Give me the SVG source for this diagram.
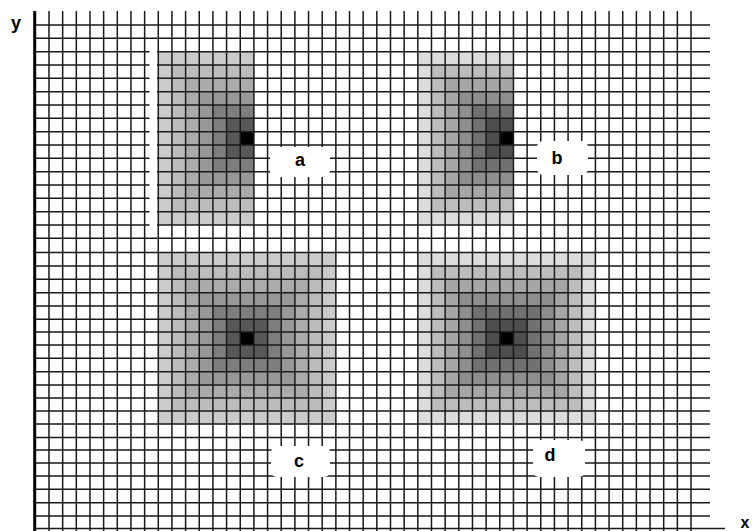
<svg xmlns="http://www.w3.org/2000/svg" width="753" height="531" viewBox="0 0 753 531">
<style>
.grid{fill:none;stroke:#1a1a1a;stroke-width:1.5}
.axis{fill:none;stroke:#000;stroke-width:3}
.lbl{font-family:"Liberation Sans",Arial,sans-serif;font-weight:bold;font-size:18px;fill:#000;text-anchor:middle}
.box{fill:#fff;stroke:none}
.c6{fill:#cbcbcb}.c5{fill:#bcbcbc}.c4{fill:#ababab}.c3{fill:#989898}.c2{fill:#7e7e7e}.c1{fill:#585858}.c0{fill:#000}
.d6{fill:#dcdcdc}.d5{fill:#bdbdbd}.d4{fill:#a6a6a6}.d3{fill:#8e8e8e}.d2{fill:#717171}.d1{fill:#4e4e4e}.d0{fill:#000}
</style>
<rect width="753" height="531" fill="#fff"/>
<g id="field-a">
<rect class="c6" x="158.28" y="51.7" width="95.62" height="173.3"/>
<rect class="c5" x="171.94" y="65" width="81.96" height="146.7"/>
<rect class="c4" x="185.6" y="78.3" width="68.3" height="120"/>
<rect class="c3" x="199.26" y="91.7" width="54.64" height="93.3"/>
<rect class="c2" x="212.92" y="105" width="40.98" height="66.7"/>
<rect class="c1" x="226.58" y="118.3" width="27.32" height="40"/>
<rect class="c0" x="240.24" y="131.7" width="13.66" height="13.3"/>
</g>
<g id="field-b">
<rect class="d6" x="417.82" y="51.7" width="95.62" height="173.3"/>
<rect class="d5" x="431.48" y="65" width="81.96" height="146.7"/>
<rect class="d4" x="445.14" y="78.3" width="68.3" height="120"/>
<rect class="d3" x="458.8" y="91.7" width="54.64" height="93.3"/>
<rect class="d2" x="472.46" y="105" width="40.98" height="66.7"/>
<rect class="d1" x="486.12" y="118.3" width="27.32" height="40"/>
<rect class="d0" x="499.78" y="131.7" width="13.66" height="13.3"/>
</g>
<g id="field-c">
<rect class="c6" x="158.28" y="252.5" width="177.58" height="171.5"/>
<rect class="c5" x="171.94" y="266" width="150.26" height="145"/>
<rect class="c4" x="185.6" y="279.3" width="122.94" height="118.7"/>
<rect class="c3" x="199.26" y="292.7" width="95.62" height="92.3"/>
<rect class="c2" x="212.92" y="306" width="68.3" height="65.7"/>
<rect class="c1" x="226.58" y="319.3" width="40.98" height="39"/>
<rect class="c0" x="240.24" y="332" width="13.66" height="13"/>
</g>
<g id="field-d">
<rect class="d6" x="417.82" y="252.5" width="177.58" height="171.5"/>
<rect class="d5" x="431.48" y="266" width="150.26" height="145"/>
<rect class="d4" x="445.14" y="279.3" width="122.94" height="118.7"/>
<rect class="d3" x="458.8" y="292.7" width="95.62" height="92.3"/>
<rect class="d2" x="472.46" y="306" width="68.3" height="65.7"/>
<rect class="d1" x="486.12" y="319.3" width="40.98" height="39"/>
<rect class="d0" x="499.78" y="332" width="13.66" height="13"/>
</g>
<g id="connectors">
<path class="grid" d="M49 11V531M62.66 11V531M76.32 11V531M89.98 11V531M103.64 11V531M117.3 11V531M130.96 11V531M144.62 11V531M158.28 11V531M171.94 11V531M185.6 11V531M199.26 11V531M212.92 11V531M226.58 11V531M240.24 11V531M253.9 11V531M267.56 11V531M281.22 11V531M294.88 11V531M308.54 11V531M322.2 11V531M335.86 11V531M349.52 11V531M363.18 11V531M376.84 11V531M390.5 11V531M404.16 11V531M417.82 11V531M431.48 11V531M445.14 11V531M458.8 11V531M472.46 11V531M486.12 11V531M499.78 11V531M513.44 11V531M527.1 11V531M540.76 11V531M554.42 11V531M568.08 11V531M581.74 11V531M595.4 11V531M609.06 11V531M622.72 11V531M636.38 11V531M650.04 11V531M663.7 11V531M677.36 11V531M691.02 11V531"/>
<path class="grid" d="M35 25H710M35 38.3H710M35 51.7H710M35 65H710M35 78.3H710M35 91.7H710M35 105H710M35 118.3H710M35 131.7H710M35 145H710M35 158.3H710M35 171.7H710M35 185H710M35 198.3H710M35 211.7H710M35 225H710M35 238.3H710M35 252.5H710M35 266H710M35 279.3H710M35 292.7H710M35 306H710M35 319.3H710M35 332H710M35 345H710M35 358.3H710M35 371.7H710M35 385H710M35 398H710M35 411H710M35 424H710M35 437.5H710M35 450H710M35 463H710M35 476H710M35 489.3H710M35 502.7H710M35 516H710M35 528.5H725"/>
<path class="axis" d="M34.7 11V531"/>
</g>
<rect class="box" x="149.5" y="48" width="7.5" height="182"/>
<g id="label-a"><rect class="box" x="270" y="147" width="60" height="30" rx="6"/><text class="lbl" x="300" y="166">a</text></g>
<g id="label-b"><rect class="box" x="537" y="141" width="51" height="34" rx="6"/><text class="lbl" x="557" y="164">b</text></g>
<g id="label-c"><rect class="box" x="271" y="446" width="59" height="31" rx="6"/><text class="lbl" x="299" y="467">c</text></g>
<g id="label-d"><rect class="box" x="533" y="440" width="52" height="37" rx="6"/><text class="lbl" x="550" y="461">d</text></g>
<g id="axis-labels"><text class="lbl" x="16" y="29">y</text><text class="lbl" x="745" y="528" style="font-size:16px">x</text></g>
</svg>
